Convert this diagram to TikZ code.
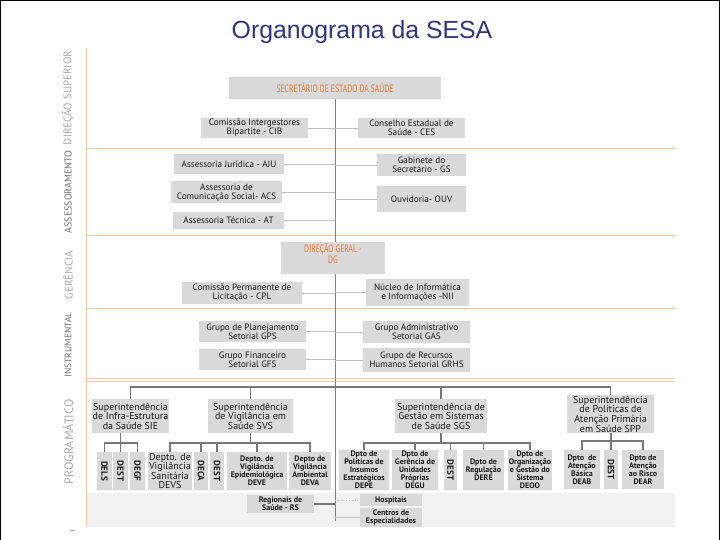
\documentclass[tikz,border=0pt]{standalone}
\usepackage{fontspec}
\setmainfont{PT Sans}
\newfontfamily\titlefont{Liberation Sans}
\newfontfamily\capsfont[FakeStretch=0.72]{PT Sans}
\usetikzlibrary{calc}
\definecolor{boxgray}{RGB}{217,217,217}
\definecolor{bandgray}{RGB}{242,242,242}
\definecolor{peach}{RGB}{244,200,160}
\definecolor{linkgray}{RGB}{190,190,190}
\definecolor{spinegray}{RGB}{128,128,128}
\definecolor{proggray}{RGB}{120,120,120}
\definecolor{secorange}{RGB}{232,119,46}
\definecolor{titleblue}{RGB}{51,51,128}
\definecolor{labelgray}{RGB}{170,170,170}
\definecolor{labeldark}{RGB}{110,110,110}
\definecolor{inkgray}{RGB}{25,25,25}
\tikzset{
  box/.style={rectangle, fill=boxgray, inner sep=0pt, align=center,
    text=inkgray, font=\fontsize{9.2}{8.8}\selectfont},
  headbox/.style={box, text=secorange, font=\capsfont\fontsize{10.6}{9.4}\selectfont},
  supbox/.style={box, font=\fontsize{10}{9.6}\selectfont},
  depbox/.style={box, font=\bfseries\fontsize{8}{8}\selectfont},
  vbox/.style={box, font=\bfseries\fontsize{9}{9}\selectfont},
  sidelabel/.style={rotate=90, text=labelgray},
  link/.style={line width=0.8pt, color=linkgray},
  spine/.style={line width=0.9pt, color=spinegray},
  progline/.style={line width=1.1pt, color=proggray},
  bandline/.style={line width=0.9pt, color=peach}
}

\begin{document}
\begin{tikzpicture}[x=1pt, y=-1pt]
  \useasboundingbox (0,0) rectangle (720,540);
  \draw[black, line width=1pt] (0.5,540) -- (0.5,0.5) -- (719.5,0.5) -- (719.5,540);
  \node[font=\titlefont\fontsize{24.8}{28}\selectfont, text=titleblue, anchor=base] (title)
    at (362,39) {Organograma da SESA};
  % ── Bands ──
  \fill[bandgray] (86,493) rectangle (675,527);
  \draw[bandline] (86,48) -- (86,527);
  \foreach \y in {148,235,308,378,381.5}
    \draw[bandline] (86,\y) -- (675,\y);
  \node[sidelabel, font=\fontsize{11}{11}\selectfont] (lbldir) at (68,98) {DIREÇÃO SUPERIOR};
  \node[sidelabel, text=labeldark, font=\fontsize{10}{10}\selectfont] (lblass) at (68,192) {ASSESSORAMENTO};
  \node[sidelabel, font=\fontsize{11}{11}\selectfont] (lblger) at (68,275) {GERÊNCIA};
  \node[sidelabel, text=labeldark, font=\fontsize{9.4}{9.4}\selectfont] (lblins) at (68,345) {INSTRUMENTAL};
  \node[sidelabel, font=\fontsize{12.2}{12.2}\selectfont] (lblprog) at (68,442) {PROGRAMÁTICO};
  \draw[labelgray] (70,530) -- (75,530);
  % ── Spine ──
  \node[headbox, minimum width=212, minimum height=22] (sec) at (335,88) {SECRETÁRIO DE ESTADO DA SAÚDE};
  \coordinate (spineend) at (335,521);
  \draw[spine] (sec.south) -- (spineend);
  % ── Direção superior / assessoramento ──
  \node[box, minimum width=107, minimum height=20] (cib) at (254.5,128) {Comissão Intergestores\\Bipartite - CIB};
  \node[box, minimum width=107, minimum height=20] (ces) at (411.5,128) {Conselho Estadual de\\Saúde - CES};
  \node[box, minimum width=110, minimum height=20] (aju) at (229,164) {Assessoria Jurídica - AJU};
  \node[box, minimum width=89, minimum height=22] (gs) at (421.5,165) {Gabinete do\\Secretário - GS};
  \node[box, minimum width=111, minimum height=22] (acs) at (226.5,192.5) {Assessoria de\\Comunicação Social- ACS};
  \node[box, minimum width=89, minimum height=26] (ouv) at (421.5,199) {Ouvidoria- OUV};
  \node[box, minimum width=111, minimum height=17] (at) at (228.5,220.5) {Assessoria Técnica - AT};
  % ── Gerência / instrumental ──
  \node[headbox, minimum width=104, minimum height=32] (dg) at (333,258) {DIREÇÃO GERAL -\\DG\\~};
  \node[box, minimum width=120, minimum height=22] (cpl) at (242,293) {Comissão Permanente de\\Licitação - CPL};
  \node[box, minimum width=103, minimum height=27] (nii) at (417.5,292.5) {Núcleo de Informática\\e Informações -NII};
  \node[box, minimum width=107, minimum height=21] (gps) at (252.5,331.5) {Grupo de Planejamento\\Setorial GPS};
  \node[box, minimum width=107, minimum height=22] (gas) at (416.5,332) {Grupo Administrativo\\Setorial GAS};
  \node[box, minimum width=107, minimum height=21] (gfs) at (252.5,359.5) {Grupo Financeiro\\Setorial GFS};
  \node[box, minimum width=107, minimum height=24] (grhs) at (416.5,360) {Grupo de Recursos\\Humanos Setorial GRHS};
  \draw[link] (cib.east) -- (ces.west);
  \foreach \n in {aju,acs,at,cpl,gps,gfs}
    \draw[link] (\n.east) -- (\n.east -| spineend);
  \foreach \n in {gs,ouv,nii,gas,grhs}
    \draw[link] (\n.west) -- (\n.west -| spineend);
  % ── Programático ──
  \node[supbox, minimum width=77, minimum height=34] (sie) at (130.5,416) {Superintendência\\de Infra-Estrutura\\da Saúde SIE};
  \node[supbox, minimum width=85, minimum height=34] (svs) at (250.5,416) {Superintendência\\de Vigilância em\\Saúde SVS};
  \node[supbox, minimum width=92, minimum height=34] (sgs) at (441,416) {Superintendência de\\Gestão em Sistemas\\de Saúde SGS};
  \node[supbox, minimum width=87, minimum height=38] (spp) at (610.5,414) {Superintendência\\de Políticas de\\Atenção Primária\\em Saúde SPP};
  % SIE
  \node[vbox, minimum width=15, minimum height=38] (dels) at (104.5,471) {\rotatebox{-90}{DELS}};
  \node[vbox, minimum width=15, minimum height=38] (dest1) at (120.5,471) {\rotatebox{-90}{DEST}};
  \node[vbox, minimum width=15, minimum height=38] (degf) at (137.5,471) {\rotatebox{-90}{DEGF}};
  % SVS
  \node[supbox, minimum width=44, minimum height=38] (devs) at (170,471) {Depto. de\\Vigilância\\Sanitária\\DEVS};
  \node[vbox, minimum width=14, minimum height=38] (deca) at (201,471) {\rotatebox{-90}{DECA}};
  \node[vbox, minimum width=14, minimum height=38] (dest2) at (217,471) {\rotatebox{-90}{DEST}};
  \node[depbox, minimum width=60, minimum height=38] (deve) at (257,471) {Depto. de\\Vigilância\\Epidemiológica\\DEVE};
  \node[depbox, minimum width=42, minimum height=38] (deva) at (310,471) {Depto de\\Vigilância\\Ambiental\\DEVA};
  % SGS
  \node[depbox, minimum width=50, minimum height=40] (depe) at (364,470) {Dpto de\\Políticas de\\Insumos\\Estratégicos\\DEPE};
  \node[depbox, minimum width=46, minimum height=40] (degu) at (415,470) {Dpto de\\Gerência de\\Unidades\\Próprias\\DEGU};
  \node[vbox, minimum width=13, minimum height=40] (dest3) at (450.5,470) {\rotatebox{-90}{DEST}};
  \node[depbox, minimum width=41, minimum height=40] (dere) at (483.5,470) {Dpto de\\Regulação\\DERE};
  \node[depbox, minimum width=44, minimum height=40] (deoo) at (530,470) {Dpto de\\Organização\\e Gestão do\\Sistema\\DEOO};
  % SPP
  \node[depbox, minimum width=36, minimum height=39] (deab) at (582,469.5) {Dpto~ de\\Atenção\\Básica\\DEAB};
  \node[vbox, minimum width=14, minimum height=39] (dest4) at (611,469.5) {\rotatebox{-90}{DEST}};
  \node[depbox, minimum width=42, minimum height=39] (dear) at (643,469.5) {Dpto de\\Atenção\\ao Risco\\DEAR};
  % Band
  \node[depbox, minimum width=67, minimum height=18] (rs) at (280.5,504) {Regionais de\\Saúde - RS};
  \node[depbox, minimum width=62, minimum height=12] (hosp) at (391,500) {Hospitais};
  \node[depbox, minimum width=62, minimum height=19] (cesp) at (391,517) {Centros de\\Especialidades};
  % Connectors
  \coordinate (progbar) at (0,387);
  \coordinate (subbar) at (0,443);
  \coordinate (subbarspp) at (0,441);
  \draw[progline] (sie.north) -- (sie.north |- progbar) -| (spp.north);
  \draw[progline] (svs.north) -- (svs.north |- progbar);
  \draw[progline] (sgs.north) -- (sgs.north |- progbar);
  \draw[progline] (dels.north) -- (dels.north |- subbar) -| (degf.north);
  \draw[progline] (dest1.north) -- (dest1.north |- sie.south);
  \draw[progline] (devs.north) -- (devs.north |- subbar) -| (deva.north);
  \draw[progline] (svs.south) -- (svs.south |- subbar);
  \foreach \n in {deca,dest2,deve}
    \draw[progline] (\n.north) -- (\n.north |- subbar);
  \draw[progline] (depe.north) -- (depe.north |- subbar) -| (deoo.north);
  \draw[progline] (sgs.south) -- (sgs.south |- subbar);
  \foreach \n in {degu,dest3,dere}
    \draw[progline] (\n.north) -- (\n.north |- subbar);
  \draw[progline] (deab.north) -- (deab.north |- subbarspp) -| (dear.north);
  \draw[progline] (dest4.north) -- (dest4.north |- spp.south);
  \draw[line width=1.8pt, color=proggray] (rs.east) -- (rs.east -| spineend);
  \draw[link, dotted] (hosp.west -| spineend) -- (hosp.west);
  \draw[link] (cesp.west -| spineend) -- (cesp.west);
\end{tikzpicture}
\end{document}
